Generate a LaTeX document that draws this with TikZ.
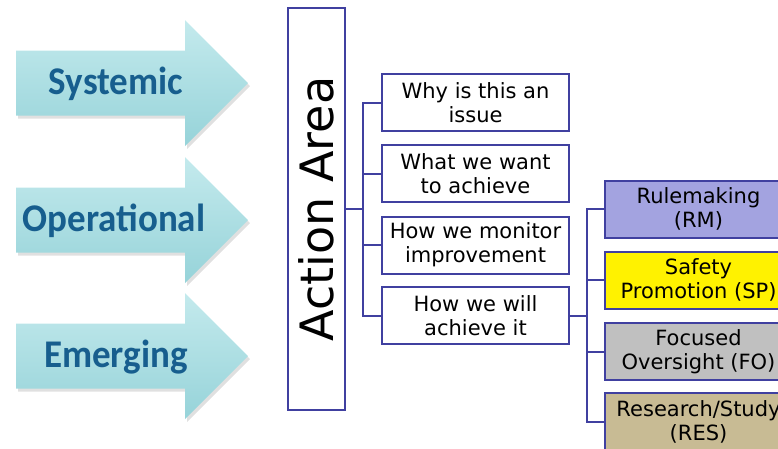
\documentclass[tikz,border=0pt]{standalone}
\usepackage{fontspec}
\setmainfont{DejaVu Sans}
\newfontfamily\arrowfont{Carlito}
\usetikzlibrary{shadows}
\definecolor{linec}{HTML}{4040A0}
\definecolor{arrtop}{HTML}{C4EAED}
\definecolor{arrbot}{HTML}{96D3D9}
\definecolor{arrtext}{HTML}{175E8E}
\definecolor{rmfill}{HTML}{A3A3E0}
\definecolor{fofill}{HTML}{C0C0C0}
\definecolor{resfill}{HTML}{C8BB94}
\tikzset{
  box/.style={draw=linec, line width=2pt, minimum width=187pt, minimum height=57pt,
    inner sep=0pt, align=center, font=\fontsize{21}{24}\selectfont, text=black},
  conn/.style={draw=linec, line width=2pt},
  arrlabel/.style={font=\arrowfont\bfseries\fontsize{37}{40}\selectfont, text=arrtext, yscale=1.06},
  bigarrow/.style={top color=arrtop, bottom color=arrbot, draw=none,
    drop shadow={shadow xshift=2pt, shadow yshift=-3pt, opacity=0.3, fill=black!40}}
}
\begin{document}
\begin{tikzpicture}[x=1pt,y=-1pt]
\useasboundingbox (0,0) rectangle (778,448);
\clip (0,0) rectangle (778,448);
% arrows
\foreach \c in {83,220,356}{
  \path[bigarrow] (16,\c-32.5) -- (185,\c-32.5) -- (185,\c-63) -- (248,\c) -- (185,\c+63)
     -- (185,\c+32.5) -- (16,\c+32.5) -- cycle;
}
\node[arrlabel] (sys) at (116,84) {Systemic};
\node[arrlabel] (ope) at (114,221) {Operational};
\node[arrlabel] (eme) at (116,357) {Emerging};
% action area
\node[draw=linec, line width=2pt, minimum width=57pt, minimum height=402pt, inner sep=0pt]
  (aa) at (316.5,209) {};
\node[rotate=90, font=\fontsize{46}{50}\selectfont, text=black] (aat) at (aa.center) {Action Area};
% middle boxes
\node[box] (b1) at (475.5,102.5) {Why is this an\\issue};
\node[box] (b2) at (475.5,173.5) {What we want\\to achieve};
\node[box] (b3) at (475.5,245) {How we monitor\\improvement};
\node[box] (b4) at (475.5,315.5) {How we will\\achieve it};
\coordinate (j1) at (363,209);
\draw[conn] (aa.east) -- (j1);
\draw[conn] (b1.west) -| (j1);
\draw[conn] (b2.west) -| (j1);
\draw[conn] (b3.west) -| (j1);
\draw[conn] (b4.west) -| (j1);
% right boxes
\node[box, fill=rmfill] (r1) at (698.5,209) {Rulemaking\\(RM)};
\node[box, fill=yellow] (r2) at (698.5,280) {Safety\\Promotion (SP)};
\node[box, fill=fofill] (r3) at (698.5,351.5) {Focused\\Oversight (FO)};
\node[box, fill=resfill] (r4) at (698.5,421.5) {Research/Study\\(RES)};
\coordinate (j2) at (587,315.5);
\draw[conn] (b4.east) -- (j2);
\draw[conn] (r1.west) -| (j2);
\draw[conn] (r2.west) -| (j2);
\draw[conn] (r3.west) -| (j2);
\draw[conn] (r4.west) -| (j2);
\end{tikzpicture}
\end{document}
